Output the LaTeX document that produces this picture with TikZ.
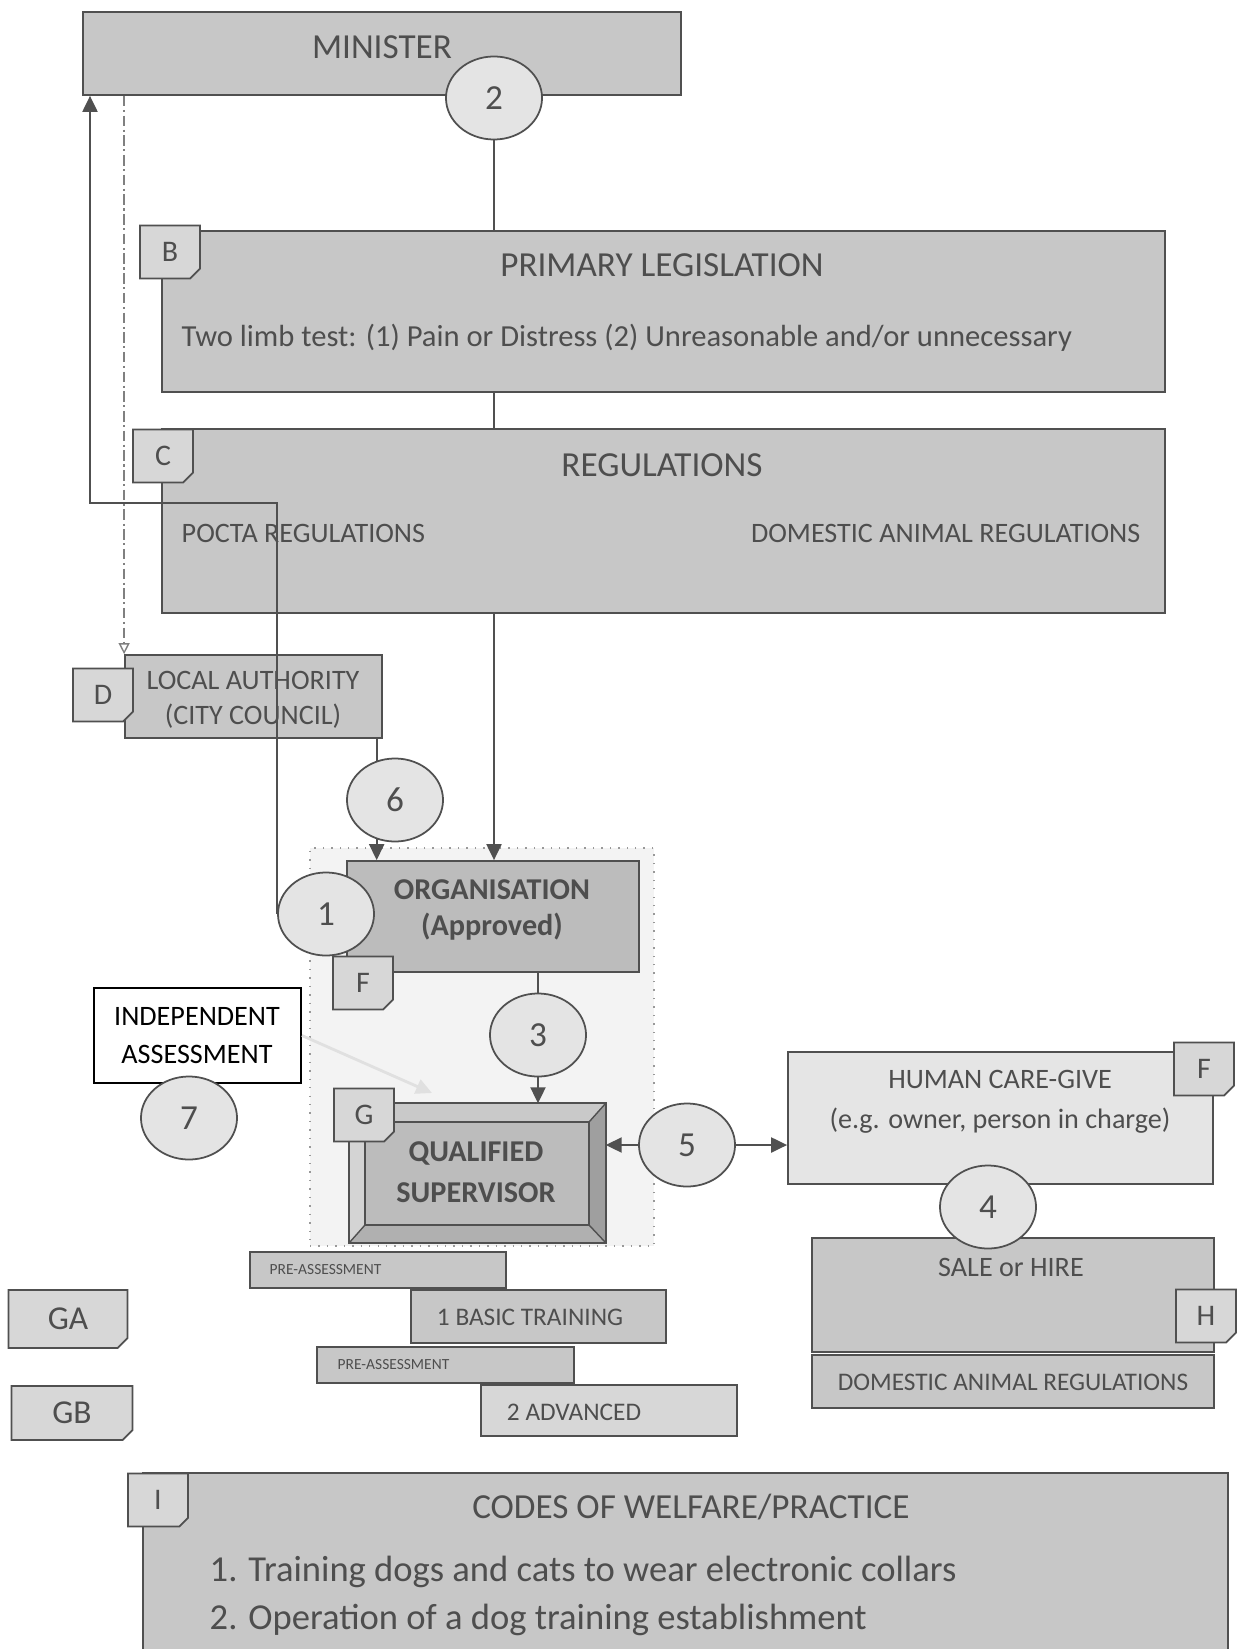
\documentclass[tikz,border=0pt]{standalone}
\usepackage{fontspec}
\setmainfont{Carlito}
\usepackage{xcolor}
\usetikzlibrary{arrows.meta,positioning,shapes.geometric,shapes.misc,fit}
\definecolor{boxgray}{RGB}{199,199,199}
\definecolor{orggray}{RGB}{188,188,188}
\definecolor{taggray}{RGB}{215,215,215}
\definecolor{bubblegray}{RGB}{228,228,228}
\definecolor{paleback}{RGB}{243,243,243}
\definecolor{caregray}{RGB}{229,229,229}
\definecolor{linegray}{RGB}{80,80,80}
\definecolor{inkgray}{RGB}{78,78,78}

\begin{document}
\begin{tikzpicture}[x=0.01cm, y=-0.01cm,
        area/.style={rectangle,draw=linegray,fill=boxgray,line width=0.5pt,inner sep=0pt},
        tag/.style={chamfered rectangle,chamfered rectangle corners=south east,
          chamfered rectangle xsep=1.4pt,chamfered rectangle ysep=1.4pt,
          draw=linegray,fill=taggray,line width=0.5pt,minimum width=0.6cm,minimum height=0.53cm,
          inner sep=0pt,text=inkgray,font=\fontsize{8.5}{10}\selectfont},
        bubble/.style={ellipse,draw=linegray,fill=bubblegray,line width=0.5pt,
          minimum width=0.96cm,minimum height=0.83cm,inner sep=0pt,
          text=inkgray,font=\fontsize{10}{12}\selectfont},
        txt/.style={inner sep=0pt,text=inkgray,align=center},
        big/.style={txt,font=\fontsize{10}{12}\selectfont},
        mid/.style={txt,font=\fontsize{8}{10}\selectfont},
        small/.style={txt,font=\fontsize{7.2}{8.6}\selectfont},
        tiny/.style={txt,font=\fontsize{4.4}{5}\selectfont},
        heavy/.style={txt,font=\bfseries\fontsize{8.6}{10.2}\selectfont},
        link/.style={draw=linegray,line width=0.6pt},
        arrow/.style={-{Triangle[length=1.6mm,width=1.5mm]},draw=linegray,line width=0.6pt},
        dashline/.style={-{Triangle[open,length=1.1mm,width=1.1mm]},draw=gray,line width=0.4pt,
          dash pattern=on 3pt off 1pt on 0.6pt off 1pt},
        faint/.style={-{Triangle[length=1.6mm,width=1.5mm]},draw=black!12,line width=0.8pt}]
        \useasboundingbox (0,0) rectangle (1236,1649);

        \node[fit={(310,848) (654,1246)},draw=gray!80,dotted,fill=paleback,inner sep=0pt] (grp) {};

        \node[area,fit={(83,12) (681,95)}] (minister) {};
        \node[big] (minister-t) at (382,47) {MINISTER};

        \node[area,fit={(162,231) (1165,392)}] (primary) {};
        \node[big] (primary-t) at (662,265) {PRIMARY LEGISLATION};
        \node[txt,font=\fontsize{8.7}{10}\selectfont,anchor=west] (primary-s) at (181,338)
          {Two limb test: (1) Pain or Distress (2) Unreasonable and/or unnecessary};

        \node[area,fit={(162,429) (1165,613)}] (regs) {};
        \node[big] (regs-t) at (662,465) {REGULATIONS};
        \node[mid,anchor=west] (pocta) at (181,533) {POCTA REGULATIONS};
        \node[mid,anchor=east] (domestic) at (1141,533) {DOMESTIC ANIMAL REGULATIONS};

        \node[area,fit={(125,655) (382,738)}] (la) {};
        \node[mid] (la-t) at (253,700) {LOCAL AUTHORITY\\(CITY COUNCIL)};

        \node[area,fill=orggray,fit={(347,861) (639,972)}] (org) {};
        \node[heavy] (org-t) at (492,910) {ORGANISATION\\(Approved)};

        \node[fit={(350,1104) (605,1242)},inner sep=0pt] (qs) {};
        \coordinate (qi-nw) at (365,1122);
        \coordinate (qi-ne) at (589,1122);
        \coordinate (qi-se) at (589,1225);
        \coordinate (qi-sw) at (365,1225);
        \fill[gray!42] (qs.north west) -- (qs.north east) -- (qi-ne) -- (qi-nw) -- cycle;
        \fill[gray!34] (qs.north west) -- (qi-nw) -- (qi-sw) -- (qs.south west) -- cycle;
        \fill[gray!75] (qs.north east) -- (qs.south east) -- (qi-se) -- (qi-ne) -- cycle;
        \fill[gray!62] (qs.south west) -- (qi-sw) -- (qi-se) -- (qs.south east) -- cycle;
        \fill[orggray] (qi-nw) rectangle (qi-se);
        \draw[linegray,line width=0.5pt] (qs.north west) rectangle (qs.south east);
        \draw[linegray,line width=0.4pt] (qi-nw) rectangle (qi-se);
        \draw[linegray,line width=0.4pt] (qs.north west) -- (qi-nw) (qs.north east) -- (qi-ne)
          (qs.south east) -- (qi-se) (qs.south west) -- (qi-sw);
        \node[txt,font=\bfseries\fontsize{8.6}{11.6}\selectfont] (qs-t) at (476,1172) {QUALIFIED\\SUPERVISOR};

        \node[area,fill=white,draw=black,fit={(94,988) (301,1083)}] (indep) {};
        \node[txt,text=black,font=\fontsize{8}{10.8}\selectfont] (indep-t) at (197,1036) {INDEPENDENT\\ASSESSMENT};

        \node[area,fill=caregray,fit={(788,1052) (1213,1184)}] (human) {};
        \node[txt,font=\fontsize{8}{11.4}\selectfont] (human-t) at (1000,1102)
          {HUMAN CARE-GIVE\\(e.g. owner, person in charge)};

        \node[area,fit={(812,1238) (1214,1352)}] (sale) {};
        \node[mid] (sale-t) at (1011,1267) {SALE or HIRE};
        \node[area,fit={(812,1355) (1214,1408)}] (domreg) {};
        \node[small] (domreg-t) at (1013,1382) {DOMESTIC ANIMAL REGULATIONS};

        \node[area,fit={(250,1252) (506,1288)}] (pre-a) {};
        \node[tiny,anchor=west] (pre-a-t) at (269,1270) {PRE-ASSESSMENT};
        \node[area,fit={(411,1290) (666,1343)}] (basic) {};
        \node[small] (basic-t) at (530,1317) {1 BASIC TRAINING};
        \node[area,fit={(317,1347) (574,1383)}] (pre-b) {};
        \node[tiny,anchor=west] (pre-b-t) at (337,1365) {PRE-ASSESSMENT};
        \node[area,fill=taggray,fit={(481,1385) (737,1436)}] (adv) {};
        \node[small] (adv-t) at (574,1412) {2 ADVANCED};

        \node[area,fit={(143,1473) (1228,1680)}] (codes) {};
        \node[big] (codes-t) at (691,1507) {CODES OF WELFARE/PRACTICE};
        \node[txt,font=\fontsize{10.4}{12}\selectfont,anchor=west] (code-a) at (209,1572)
          {1. Training dogs and cats to wear electronic collars};
        \node[txt,font=\fontsize{10.4}{12}\selectfont,anchor=west] (code-b) at (209,1620)
          {2. Operation of a dog training establishment};

        \node[tag] (tag-b) at (170,252) {B};
        \node[tag] (tag-c) at (163,456) {C};
        \node[tag] (tag-d) at (103,695) {D};
        \node[tag] (tag-f) at (363,983) {F};
        \node[tag] (tag-g) at (364,1115) {G};
        \node[tag] (tag-fh) at (1204,1069) {F};
        \node[tag] (tag-h) at (1206,1316) {H};
        \node[tag,minimum width=1.19cm,minimum height=0.58cm,font=\fontsize{9.5}{11}\selectfont] (tag-ga) at (68,1319) {GA};
        \node[tag,minimum width=1.21cm,minimum height=0.54cm,font=\fontsize{9.5}{11}\selectfont] (tag-gb) at (72,1413) {GB};
        \node[tag] (tag-i) at (158,1500) {I};

        \node[bubble] (c2) at (494,98) {2};
        \node[bubble] (c6) at (395,800) {6};
        \node[bubble] (c1) at (326,914) {1};
        \node[bubble] (c3) at (538,1035) {3};
        \node[bubble] (c7) at (189,1118) {7};
        \node[bubble] (c5) at (687,1145) {5};
        \node[bubble] (c4) at (988,1207) {4};

        \coordinate (turn) at (90,503);
        \coordinate (ghost) at (432,1093);
        \draw[link] (c2.south) -- (c2.south |- primary.north);
        \draw[link] (primary.south -| c2.south) -- (regs.north -| c2.south);
        \draw[arrow] (regs.south -| c2.south) -- (org.north -| c2.south);
        \draw[arrow] (c1.west) |- (turn) -- (turn |- minister.south);
        \draw[dashline] (minister.south -| la.north west) -- (la.north west);
        \draw[link] (c6.115 |- la.south) -- (c6.115);
        \draw[arrow] (c6.245) -- (c6.245 |- org.north);
        \draw[link] (org.south -| c3.north) -- (c3.north);
        \draw[arrow] (c3.south) -- (c3.south |- qs.north);
        \draw[arrow] (c5.west) -- (c5.west -| qs.east);
        \draw[arrow] (c5.east) -- (c5.east -| human.west);
        \draw[faint] (indep.east) -- (ghost);
      \end{tikzpicture}
\end{document}
